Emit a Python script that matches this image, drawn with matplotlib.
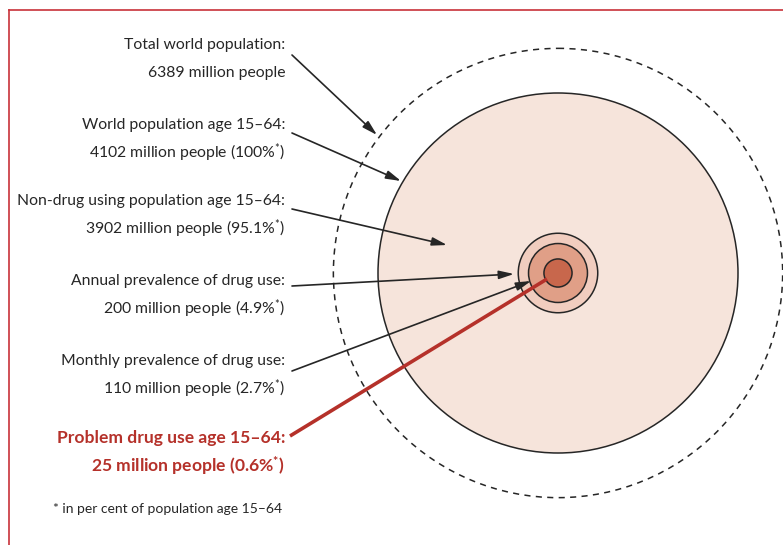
import numpy as np
import matplotlib
matplotlib.use("Agg")
import matplotlib.pyplot as plt
from matplotlib.patches import Circle

plt.rcParams['font.family'] = ['Lato', 'DejaVu Sans']
plt.rcParams['mathtext.fontset'] = 'custom'
plt.rcParams['mathtext.rm'] = 'Lato'
plt.rcParams['mathtext.it'] = 'Lato:italic'
plt.rcParams['mathtext.bf'] = 'Lato:bold'

# population in millions
titles = ["Total world population:",
          "World population age 15\u201364:",
          "Non-drug using population age 15\u201364:",
          "Annual prevalence of drug use:",
          "Monthly prevalence of drug use:",
          "Problem drug use age 15\u201364:"]
people = [6389, 4102, 3902, 200, 110, 25]
percent = [None, "100", "95.1", "4.9", "2.7", "0.6"]
footnote = "* in per cent of population age 15\u201364"

fills = ["none", "#f6e4db", None, "#f1cdbf", "#e09f87", "#c8674c"]
red = "#b5312a"
ink = "#262626"

fig = plt.figure(figsize=(7.83, 5.45), dpi=100)
ax = fig.add_axes([0, 0, 1, 1])
ax.set_xlim(0, 783)
ax.set_ylim(545, 0)
ax.axis("off")

cx, cy = 558, 273
scale = 180 / np.sqrt(people[1])   # radius of the 15-64 circle

# circles (area proportional to population)
ax.add_patch(Circle((cx, cy), np.sqrt(people[0]) * scale, fill=False,
                    ls=(0, (4, 3.5)), lw=1.1, ec=ink, zorder=1))
for i in [1, 3, 4, 5]:
    ax.add_patch(Circle((cx, cy), np.sqrt(people[i]) * scale, fc=fills[i],
                        ec=ink, lw=1.1, zorder=2 + i))

# labels
line1_y = [45, 125, 201, 281, 361, 438]
tx = 285
for i, t in enumerate(titles):
    if percent[i] is None:
        second = f"{people[i]} million people"
    elif i == 5:
        second = f"{people[i]} million people ({percent[i]}%" + r"$^{\mathbf{*}}$)"
    else:
        second = f"{people[i]} million people ({percent[i]}%" + r"$^{*}$)"
    col = red if i == 5 else ink
    wt = "bold" if i == 5 else "normal"
    fs = 12.6 if i == 5 else 11.3
    ax.text(tx, line1_y[i], t, ha="right", va="center", fontsize=fs,
            color=col, weight=wt)
    ax.text(tx, line1_y[i] + 28, second, ha="right", va="center", fontsize=fs,
            color=col, weight=wt)

ax.text(53, 509, footnote, ha="left", va="center", fontsize=10, color=ink)

# pointers
starts = [(292, 55), (292, 133), (292, 209), (292, 286), (292, 371)]
ends = [(377, 135), (401, 181), (447, 245), (514, 274), (531, 281)]
for s, e in zip(starts, ends):
    ax.annotate("", xy=e, xytext=s,
                arrowprops=dict(arrowstyle="-|>,head_length=0.9,head_width=0.25",
                                color=ink, lw=1.2, shrinkA=0, shrinkB=0),
                zorder=10)
ax.plot([290, 547], [436, 279], color=red, lw=2.6, solid_capstyle="butt", zorder=11)

# frame
ax.plot([9, 783], [10, 10], color="#c8323a", lw=1.2, clip_on=False)
ax.plot([9, 9], [10, 545], color="#c8323a", lw=1.2, clip_on=False)

fig.savefig("out.png", dpi=100)
